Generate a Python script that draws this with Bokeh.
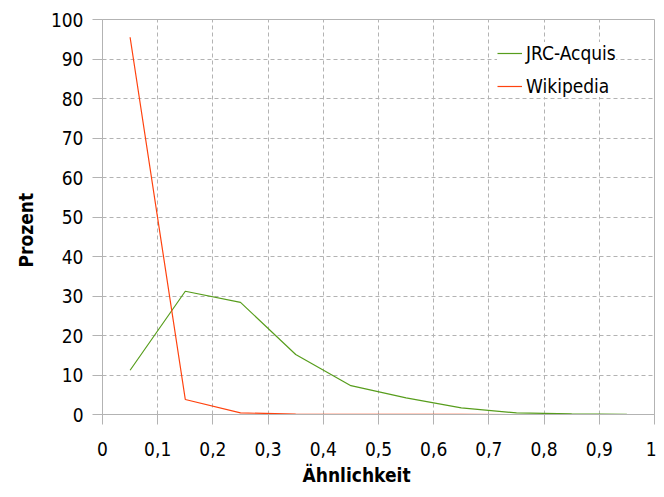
from bokeh.plotting import figure
from bokeh.models import Legend, LegendItem, Title, Range1d, FixedTicker, CustomJSTickFormatter
from bokeh.embed import file_html
from bokeh.resources import INLINE

x_vals = [0.05, 0.15, 0.25, 0.35, 0.45, 0.55, 0.65, 0.75, 0.85, 0.95]
jrc = [11.2, 31.2, 28.4, 15.2, 7.3, 4.2, 1.7, 0.4, 0.15, 0.05]
wiki = [95.5, 3.8, 0.4, 0.1, 0.05, 0.02, 0.01, 0.0, 0.0, 0.0]
x_ticks = [0, 0.1, 0.2, 0.3, 0.4, 0.5, 0.6, 0.7, 0.8, 0.9, 1.0]
y_ticks = [0, 10, 20, 30, 40, 50, 60, 70, 80, 90, 100]

FONT = "DejaVu Sans Condensed"
FS = "19px"
GRID = "#b3b3b3"

p = figure(width=656, height=489, output_backend="svg", toolbar_location=None,
           x_range=Range1d(0, 1), y_range=Range1d(0, 100),
           min_border_left=102, min_border_right=2, min_border_top=19, min_border_bottom=75)

r_jrc = p.line(x_vals, jrc, line_color="#579d1c", line_width=1.2)
r_wiki = p.line(x_vals, wiki, line_color="#ff420e", line_width=1.2)

p.outline_line_color = GRID
p.outline_line_width = 1
p.background_fill_color = "white"
p.border_fill_color = "white"

for ax in (p.xaxis[0], p.yaxis[0]):
    ax.axis_line_color = GRID
    ax.major_tick_line_color = GRID
    ax.minor_tick_line_color = None
    ax.major_tick_in = 0
    ax.major_tick_out = 10
    ax.major_label_text_font = FONT
    ax.major_label_text_font_size = FS
    ax.major_label_text_color = "black"

p.xaxis[0].ticker = FixedTicker(ticks=x_ticks)
p.yaxis[0].ticker = FixedTicker(ticks=y_ticks)
p.xaxis[0].formatter = CustomJSTickFormatter(code="return String(Math.round(tick*10)/10).replace('.', ',');")
p.xaxis[0].major_label_standoff = 17
p.yaxis[0].major_label_standoff = 9

p.xgrid.grid_line_color = GRID
p.ygrid.grid_line_color = GRID
p.xgrid.grid_line_dash = "4 3"
p.ygrid.grid_line_dash = "4 3"

p.add_layout(Title(text="Ähnlichkeit", align="left", offset=200, text_font=FONT,
                   text_font_size=FS, text_font_style="bold", text_color="black",
                   standoff=6), "below")
p.add_layout(Title(text="Prozent", align="left", offset=147, text_font=FONT,
                   text_font_size=FS, text_font_style="bold", text_color="black",
                   standoff=22), "left")

legend = Legend(items=[LegendItem(label="JRC-Acquis", renderers=[r_jrc]),
                       LegendItem(label="Wikipedia", renderers=[r_wiki])],
                location=(395, 317), padding=7, margin=0, spacing=11,
                glyph_width=25, glyph_height=20, label_height=20, label_standoff=4,
                border_line_color=None, background_fill_color="white", background_fill_alpha=1,
                label_text_font=FONT, label_text_font_size=FS, label_text_color="black")
p.add_layout(legend, "center")

open("out.html", "w").write(file_html(p, INLINE))
